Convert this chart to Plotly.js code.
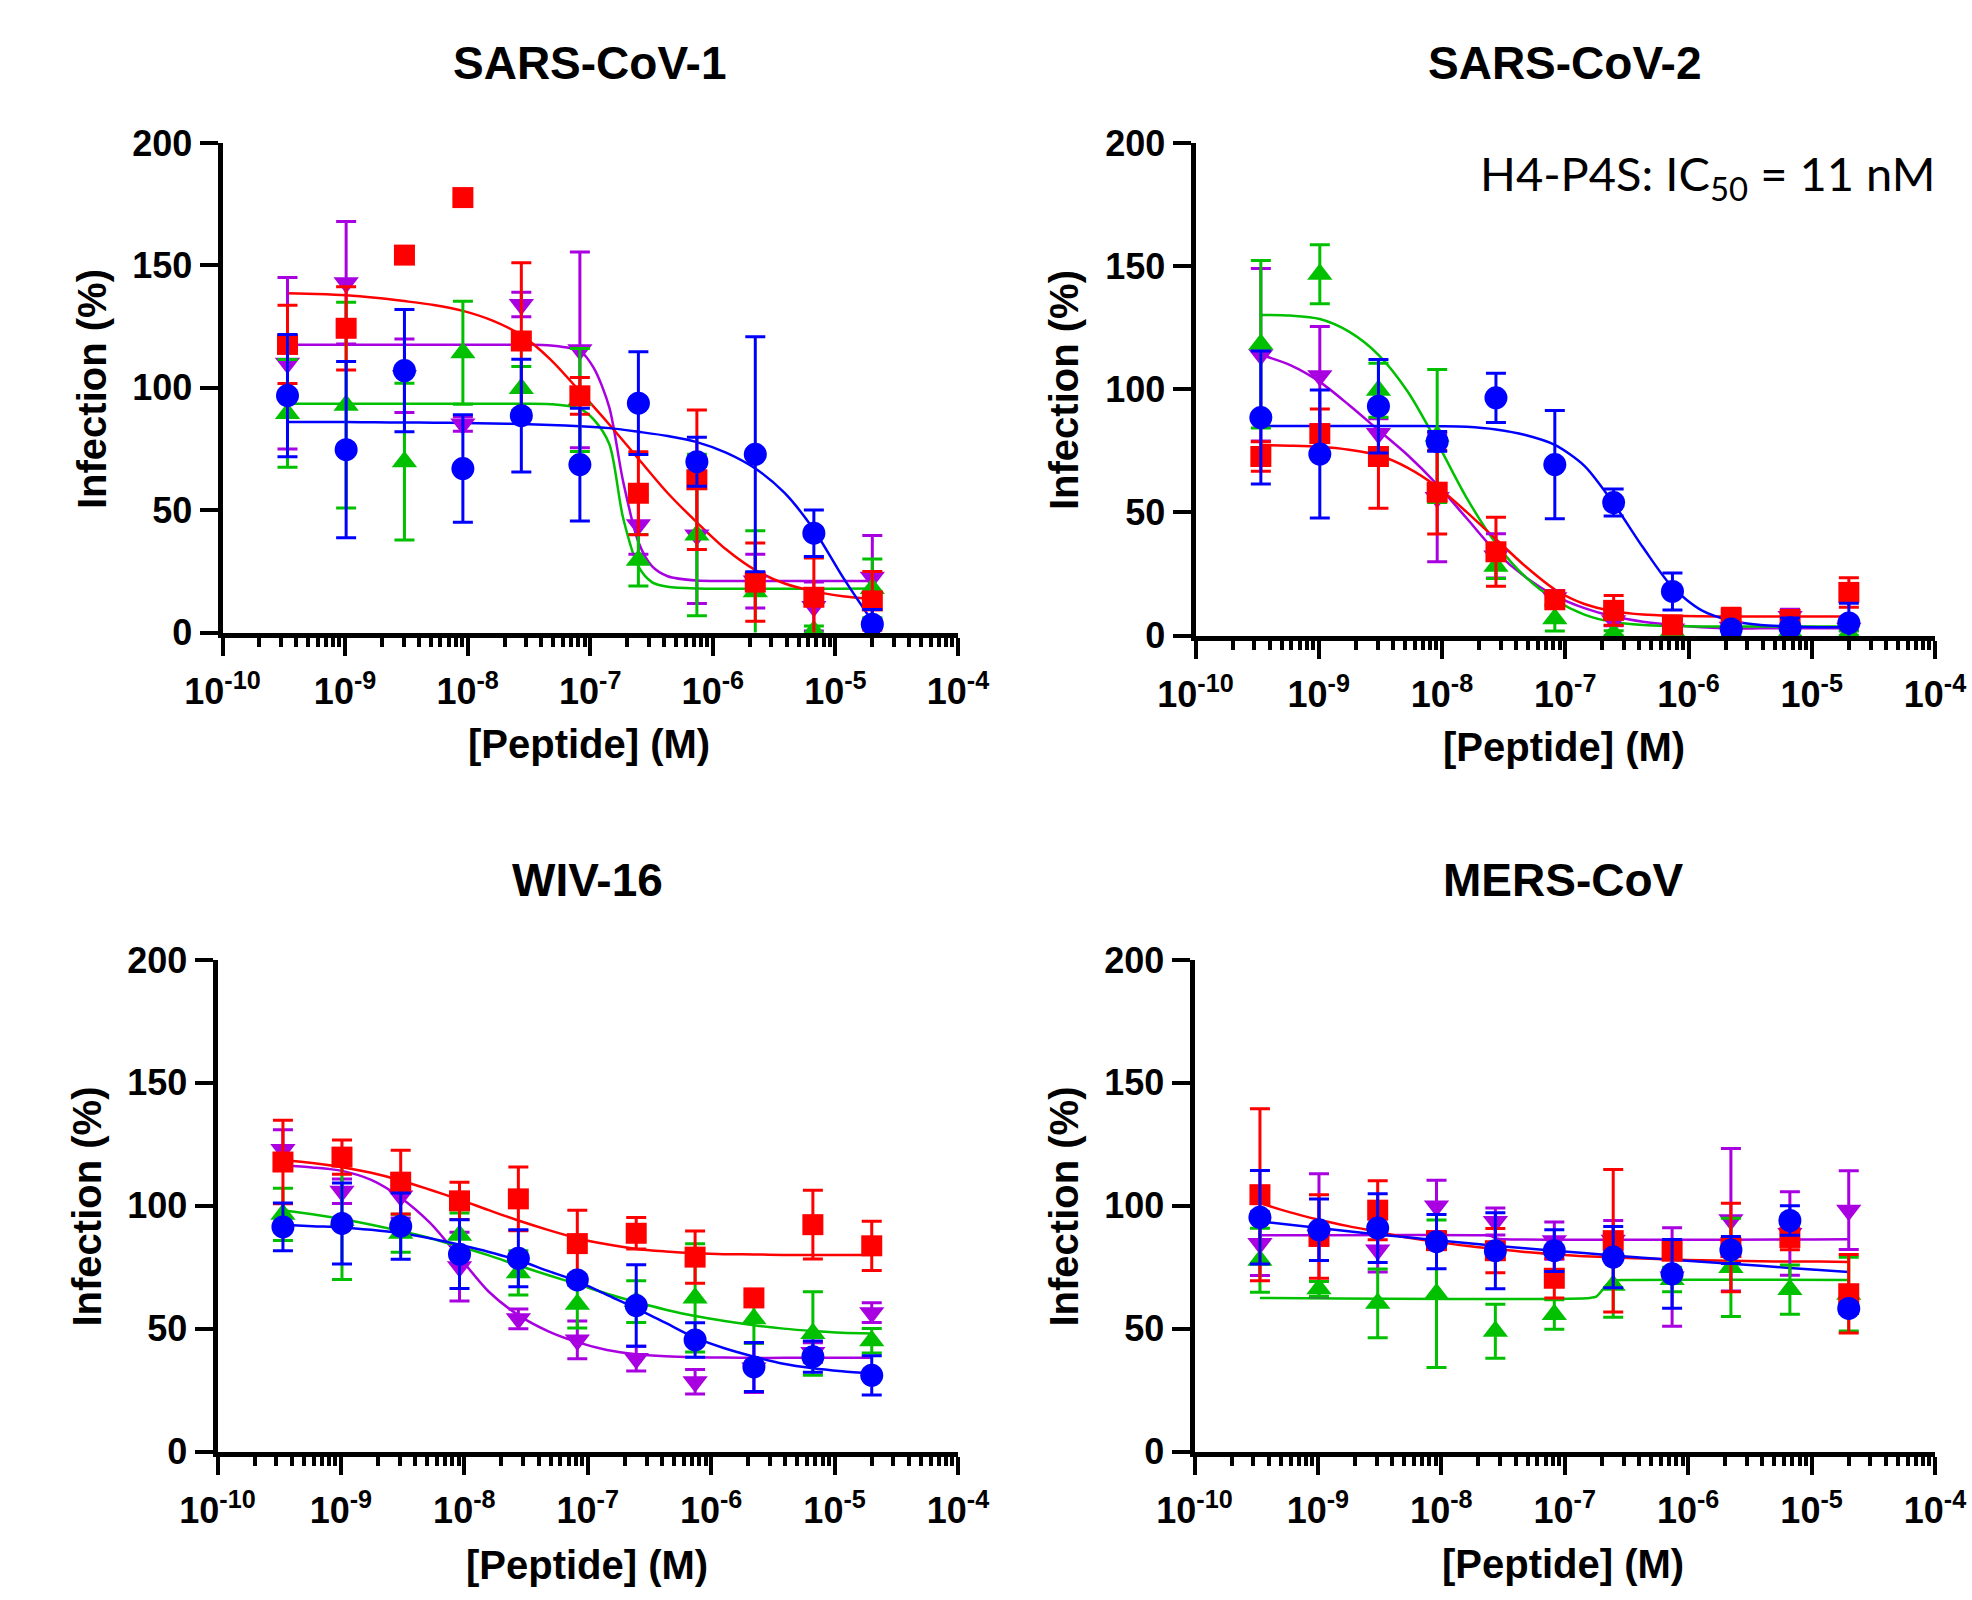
<!DOCTYPE html>
<html>
<head>
<meta charset="utf-8">
<script src="https://cdn.plot.ly/plotly-3.0.1.min.js"></script>
<style>
  html, body { margin: 0; padding: 0; background: #ffffff; }
  #chart { width: 1972px; height: 1600px; }
</style>
</head>
<body>
<div id="chart"></div>
<script>
// ---------------- DATA ----------------
// Peptide concentrations (M), 3-fold dilution series
const conc = [3.39e-10, 1.02e-9, 3.05e-9, 9.14e-9, 2.74e-8, 8.23e-8, 2.47e-7, 7.41e-7, 2.22e-6, 6.67e-6, 2.0e-5];
// grid used to trace the fitted curves
const fitConc = [3.39e-10, 5.87e-10, 1.02e-9, 1.76e-9, 3.05e-9, 5.28e-9, 9.14e-9, 1.58e-8, 2.74e-8, 4.75e-8, 8.23e-8,
                 1.43e-7, 2.47e-7, 4.28e-7, 7.41e-7, 1.28e-6, 2.22e-6, 3.85e-6, 6.67e-6, 1.15e-5, 2.0e-5];

const panelTitles = ['SARS-CoV-1', 'SARS-CoV-2', 'WIV-16', 'MERS-CoV'];
const xTitle = '[Peptide] (M)';
const yTitle = 'Infection (%)';
const noteText = 'H4-P4S: IC<sub>50</sub> = 11 nM';

const xTickVals = [1e-10, 1e-9, 1e-8, 1e-7, 1e-6, 1e-5, 1e-4];
const xTickText = ['10<sup>-10</sup>', '10<sup>-9</sup>', '10<sup>-8</sup>', '10<sup>-7</sup>', '10<sup>-6</sup>', '10<sup>-5</sup>', '10<sup>-4</sup>'];
const yTickVals = [0, 50, 100, 150, 200];
const yTickText = ['0', '50', '100', '150', '200'];

// ---- SARS-CoV-1 ----
const p1Blue = [96.8, 74.7, 107, 67, 88.6, 68.6, 93.7, 69.8, 72.8, 40.6, 3.4];
const p1BlueErr = [25, 36, 25, 22, 23, 23, 21, 10, 48, 9.5, 6];
const p1Red = [117.7, 124.3, 154.2, 177.7, 119.1, 96.7, 56.9, 62.4, 20.6, 14.4, 12.9];
const p1RedErr = [16, 17, 0, 0, 32, 7.5, 17, 28.5, 16, 16, 12];
const p1Purple = [110, 142.9, 104.9, 85.2, 134, 115.5, 44, 39.8, 21, 10.6, 22.6];
const p1PurpleErr = [35, 25, 15, 3, 5, 40, 12, 28, 11, 10, 17];
const p1Green = [89.5, 92.9, 69.8, 114.3, 99.7, 95, 29.5, 39.8, 16.6, 0.7, 18];
const p1GreenErr = [22, 42, 32, 21, 9, 21, 10.5, 33, 25, 2, 12];

const p1RedFit = [138.6, 138.3, 137.8, 136.8, 135.4, 133.8, 131.4, 127.5, 121.5, 111.5, 98.5, 85, 71, 57, 45, 34, 25.5, 20, 16.8, 14.8, 13.6];
const p1BlueFit = [86, 86, 86, 85.9, 85.8, 85.7, 85.6, 85.4, 85.2, 84.8, 84.3, 83.5, 82, 80.3, 77.8, 73.5, 67, 57, 42, 22.6, 4.5];
const p1PurpleFitX = [3.39e-10, 2.74e-8, 4.75e-8, 8.23e-8, 1.07e-7, 1.43e-7, 1.85e-7, 2.47e-7, 3.2e-7, 4.28e-7, 7.41e-7, 1.28e-6, 2.0e-5];
const p1PurpleFit = [117.6, 117.6, 117.3, 115.0, 108, 92, 62, 37, 27, 23, 21.2, 21, 21];
const p1GreenFitX = [3.39e-10, 2.74e-8, 4.75e-8, 8.23e-8, 1.07e-7, 1.43e-7, 1.85e-7, 2.47e-7, 3.2e-7, 4.28e-7, 7.41e-7, 2.0e-5];
const p1GreenFit = [93.5, 93.5, 93.3, 91.5, 87, 77, 47, 27, 20.5, 18.7, 18, 18];

// ---- SARS-CoV-2 ----
const p2Blue = [88.5, 73.7, 93.1, 78.8, 96.5, 69.4, 54, 17.9, 2.6, 3.1, 5.1];
const p2BlueErr = [27, 26, 19, 4, 10, 22, 5.5, 7.5, 2, 4, 8];
const p2Red = [72.7, 82, 72.7, 58.2, 34, 14.5, 10.2, 4.3, 7.1, 6.5, 17.5];
const p2RedErr = [6, 10, 21, 17, 14, 2, 6, 2, 4, 3, 6];
const p2Purple = [114, 105.5, 82, 56, 32.3, 15.3, 6, 2.6, 3.4, 7.7, 2.9];
const p2PurpleErr = [35, 20, 6, 26, 9, 3, 2, 1, 1, 3, 1];
const p2Green = [118.3, 146.7, 99.6, 81, 28.1, 6.8, 0.9, 2, 0.9, 1.7, 0.9];
const p2GreenErr = [34, 12, 11, 27, 5, 5, 1, 1, 1, 1, 1];

const p2RedFit = [77.4, 77.1, 76.6, 75.4, 73.2, 68.1, 60.4, 50.2, 39.1, 28.1, 18.7, 12.8, 9.9, 8.5, 8, 7.8, 7.7, 7.7, 7.7, 7.7, 7.7];
const p2BlueFit = [85.1, 85.1, 85.1, 85.1, 85.1, 85.1, 85, 84.8, 83.7, 81.4, 77.4, 68.9, 53.6, 35.7, 19.6, 10.2, 6, 4.3, 3.7, 3.4, 3.4];
const p2PurpleFit = [114, 109.8, 103, 93.6, 83.4, 73.2, 61.3, 47.7, 34, 23.8, 16.2, 11.1, 7.7, 5.6, 4.3, 3.4, 2.9, 2.9, 2.9, 2.9, 2.9];
const p2GreenFit = [130.2, 129.9, 128.5, 123.4, 114, 99, 78.3, 56, 37.4, 23.8, 14.5, 8.5, 5.4, 4.3, 3.9, 3.7, 3.7, 3.7, 3.7, 3.7, 3.7];

// ---- WIV-16 ----
const p3Red = [117.8, 119.8, 109.6, 102, 102.8, 84.6, 88.8, 79.1, 62.5, 92.3, 83.7];
const p3RedErr = [17, 7, 13, 7.6, 13, 13.6, 6.4, 10.6, 1, 14, 10];
const p3Blue = [91.4, 92.8, 91.7, 80.3, 78.6, 69.8, 59.4, 45.4, 34.4, 38.6, 31];
const p3BlueErr = [9.7, 16.5, 13.5, 14, 11.6, 2, 16.6, 7, 10, 6.4, 8];
const p3Green = [96.5, 94, 88.8, 88, 72.7, 59.9, 61, 62.5, 54, 48, 45.1];
const p3GreenErr = [10.6, 24, 7.7, 9, 9, 9.6, 8.5, 22, 10, 17, 5];
const p3Purple = [122.9, 105.9, 104, 75.2, 54, 45.4, 37.8, 28.4, 34, 40.3, 56.5];
const p3PurpleErr = [8, 5, 9, 14, 4, 7.7, 5, 5, 10, 4, 4];

const p3RedFit = [118.6, 117.4, 115.7, 113.4, 110.3, 106.5, 102.5, 98.2, 94, 90.2, 86.8, 84.3, 82.4, 81.4, 80.7, 80.3, 80.2, 80, 80, 80, 80];
const p3BlueFit = [92.3, 91.7, 91.2, 90.2, 88.8, 86.8, 84.1, 81.2, 77.8, 73.5, 69.3, 63.7, 58.2, 52.3, 46.3, 42, 38.6, 35.7, 33.9, 32.7, 31.8];
const p3GreenFit = [98.2, 96.5, 94.6, 92.3, 89.7, 86.8, 83.4, 79.8, 75.7, 71.8, 68.1, 64.2, 60.8, 57.7, 55.1, 53.1, 51.4, 50, 49, 48.3, 48];
const p3PurpleFit = [116.4, 115.6, 114.2, 110.5, 103.3, 93, 79, 65, 55.5, 49, 44.5, 41.3, 39.6, 38.8, 38.4, 38.2, 38.1, 38.1, 38.1, 38.1, 38.1];

// ---- MERS-CoV ----
const p4Red = [104.5, 87.5, 98.2, 85.8, 81.7, 70.5, 85.8, 81.5, 83, 87.1, 64.2];
const p4RedErr = [35, 17, 12, 3, 9, 8, 29, 3, 18, 5, 16];
const p4Blue = [95.3, 90.2, 90.9, 85.4, 81.7, 81.7, 79.1, 72.3, 82, 94, 58.2];
const p4BlueErr = [19, 12.5, 14, 11, 15.5, 8.5, 12.5, 14, 5.5, 6, 2];
const p4Purple = [84.6, 88, 82, 99.9, 93.6, 85.8, 86, 71, 94.3, 88.7, 98.2];
const p4PurpleErr = [13, 25, 9, 10.5, 5.5, 7.6, 8, 20, 29, 17, 16];
const p4Green = [77.8, 66.2, 60.3, 64.2, 48.9, 55.7, 67.6, 70, 74.9, 65.9, 64];
const p4GreenErr = [13, 3, 14, 30, 11, 6, 13, 5, 20, 10, 15];

const p4RedFit = [101.1, 97.4, 94.3, 91.7, 89.4, 87.1, 85.3, 83.7, 82.4, 81.2, 80.3, 79.5, 79, 78.5, 78.1, 77.8, 77.6, 77.4, 77.3, 77.3, 77.1];
const p4BlueFit = [93.6, 90.9, 88.3, 86, 83.7, 81.7, 79.8, 78, 76.4, 74.7, 73];
const p4PurpleFitX = [3.39e-10, 2.2e-8, 2.5e-8, 2.8e-8, 3.2e-8, 2.0e-5];
const p4PurpleFit = [88, 88, 87.8, 86.7, 86.4, 86.4];
const p4GreenFitX = [3.39e-10, 1.6e-7, 1.8e-7, 2.0e-7, 2.25e-7, 2.55e-7, 3.0e-7, 2.0e-5];
const p4GreenFit = [62.5, 62.5, 63, 65.5, 68.5, 69.6, 69.8, 69.8];

// ---------------- STYLE ----------------
const FONT = 'Liberation Sans, Arial, Helvetica, sans-serif';
const COLORS = { red: '#ff0000', blue: '#0000ff', green: '#00c000', purple: '#a800e0' };
const SYMBOLS = { red: 'square', blue: 'circle', green: 'triangle-up', purple: 'triangle-down' };
const SIZES = { red: 21, blue: 23, green: 22, purple: 22 };

// panel boxes in pixels: left, right, top, bottom of the plotting area
const boxes = [
  { l: 222.5, r: 958, t: 143, b: 632.5 },
  { l: 1195.5, r: 1935, t: 143, b: 635.5 },
  { l: 217.5, r: 958, t: 960, b: 1451.5 },
  { l: 1194.5, r: 1935, t: 960, b: 1451.5 }
];
const titlePos = [[589, 63], [1564, 63], [587, 880], [1563, 880]];
const yTitlePos = [[92, 389], [1064, 390], [86.5, 1207], [1063.5, 1207]];
const xTitlePos = [[589, 744], [1564, 747], [587, 1565], [1563, 1564]];

const panels = [
  { sets: [['purple', p1Purple, p1PurpleErr], ['green', p1Green, p1GreenErr], ['red', p1Red, p1RedErr], ['blue', p1Blue, p1BlueErr]],
    fits: [['purple', p1PurpleFitX, p1PurpleFit], ['green', p1GreenFitX, p1GreenFit], ['red', fitConc, p1RedFit], ['blue', fitConc, p1BlueFit]] },
  { sets: [['purple', p2Purple, p2PurpleErr], ['green', p2Green, p2GreenErr], ['red', p2Red, p2RedErr], ['blue', p2Blue, p2BlueErr]],
    fits: [['purple', fitConc, p2PurpleFit], ['green', fitConc, p2GreenFit], ['red', fitConc, p2RedFit], ['blue', fitConc, p2BlueFit]] },
  { sets: [['purple', p3Purple, p3PurpleErr], ['green', p3Green, p3GreenErr], ['red', p3Red, p3RedErr], ['blue', p3Blue, p3BlueErr]],
    fits: [['purple', fitConc, p3PurpleFit], ['green', fitConc, p3GreenFit], ['red', fitConc, p3RedFit], ['blue', fitConc, p3BlueFit]] },
  { sets: [['purple', p4Purple, p4PurpleErr], ['green', p4Green, p4GreenErr], ['red', p4Red, p4RedErr], ['blue', p4Blue, p4BlueErr]],
    fits: [['purple', p4PurpleFitX, p4PurpleFit], ['green', p4GreenFitX, p4GreenFit], ['red', fitConc, p4RedFit], ['blue', conc, p4BlueFit]] }
];

// minor log ticks (2..9 per decade)
const minorTicks = [];
for (let d = -10; d < -4; d++) for (let m = 2; m <= 9; m++) minorTicks.push(m * Math.pow(10, d));

const W = 1972, H = 1600;
const px = v => v / W, py = v => 1 - v / H;

const traces = [];
const layout = {
  width: W, height: H,
  margin: { l: 0, r: 0, t: 0, b: 0 },
  paper_bgcolor: '#ffffff', plot_bgcolor: '#ffffff',
  showlegend: false,
  font: { family: FONT, color: '#000000', size: 36 },
  annotations: []
};

panels.forEach((p, i) => {
  const n = i === 0 ? '' : String(i + 1);
  const box = boxes[i];
  const tickFont = { family: FONT, size: 36, color: '#000000', weight: 'bold' };
  layout['xaxis' + n] = {
    type: 'log', range: [-10, -4], domain: [px(box.l), px(box.r)], anchor: 'y' + n,
    showgrid: false, zeroline: false, showline: true, linewidth: 5, linecolor: '#000000',
    ticks: 'outside', ticklen: 18, tickwidth: 4, tickcolor: '#000000',
    tickmode: 'array', tickvals: xTickVals, ticktext: xTickText, tickfont: tickFont,
    ticklabelstandoff: 5,
    minor: { tickmode: 'array', tickvals: minorTicks, ticks: 'outside', ticklen: 9, tickwidth: 4, tickcolor: '#000000', showgrid: false },
    fixedrange: true
  };
  layout['yaxis' + n] = {
    range: [0, 200], domain: [py(box.b), py(box.t)], anchor: 'x' + n,
    showgrid: false, zeroline: false, showline: true, linewidth: 5, linecolor: '#000000',
    ticks: 'outside', ticklen: 18, tickwidth: 4, tickcolor: '#000000',
    tickmode: 'array', tickvals: yTickVals, ticktext: yTickText, tickfont: tickFont,
    fixedrange: true
  };

  p.fits.forEach(([c, fx, fy]) => {
    traces.push({
      type: 'scatter', mode: 'lines', x: fx, y: fy,
      xaxis: 'x' + n, yaxis: 'y' + n,
      line: { color: COLORS[c], width: 2.5, shape: 'spline', smoothing: 0.8 },
      hoverinfo: 'skip', cliponaxis: false
    });
  });
  p.sets.forEach(([c, vals, errs]) => {
    traces.push({
      type: 'scatter', mode: 'markers', x: conc, y: vals,
      xaxis: 'x' + n, yaxis: 'y' + n,
      error_y: { type: 'data', array: errs, visible: true, color: COLORS[c], thickness: 3, width: 10 },
      marker: { symbol: SYMBOLS[c], size: SIZES[c], color: COLORS[c], line: { width: 0 } },
      cliponaxis: false
    });
  });

  layout.annotations.push({
    text: panelTitles[i], xref: 'paper', yref: 'paper',
    x: px(titlePos[i][0]), y: py(titlePos[i][1]), xanchor: 'center', yanchor: 'middle',
    showarrow: false, font: { family: FONT, size: 46, color: '#000000', weight: 'bold' }
  });
  layout.annotations.push({
    text: yTitle, xref: 'paper', yref: 'paper', textangle: -90,
    x: px(yTitlePos[i][0]), y: py(yTitlePos[i][1]), xanchor: 'center', yanchor: 'middle',
    showarrow: false, font: { family: FONT, size: 40, color: '#000000', weight: 'bold' }
  });
  layout.annotations.push({
    text: xTitle, xref: 'paper', yref: 'paper',
    x: px(xTitlePos[i][0]), y: py(xTitlePos[i][1]), xanchor: 'center', yanchor: 'middle',
    showarrow: false, font: { family: FONT, size: 40, color: '#000000', weight: 'bold' }
  });
});

layout.annotations.push({
  text: noteText, xref: 'paper', yref: 'paper',
  x: px(1937), y: py(177), xanchor: 'right', yanchor: 'middle',
  showarrow: false, font: { family: 'Lato, Open Sans, sans-serif', size: 47, color: '#000000' }
});

Plotly.newPlot('chart', traces, layout, { staticPlot: true, displayModeBar: false });
</script>
</body>
</html>
